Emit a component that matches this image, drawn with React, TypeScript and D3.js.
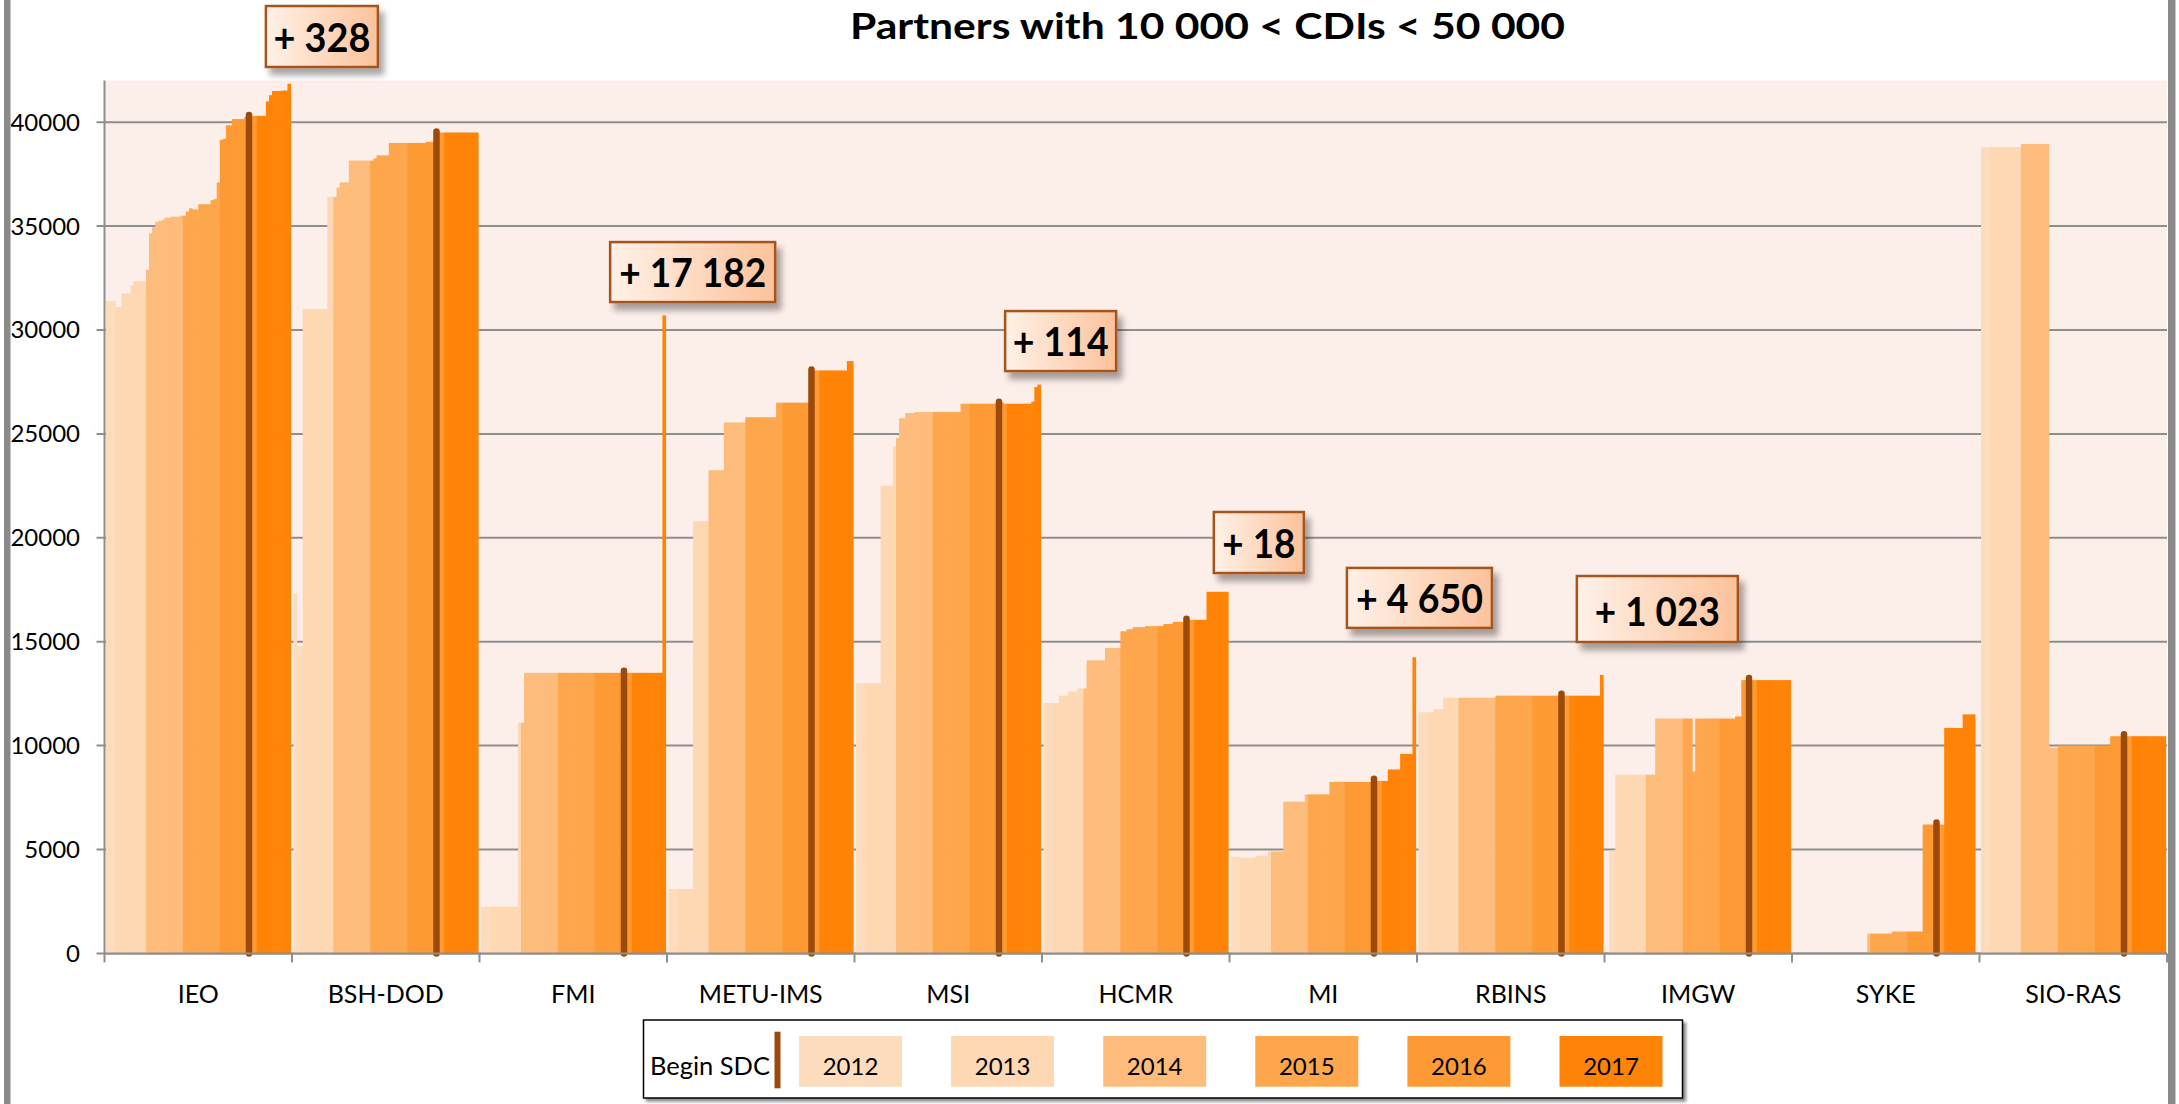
import React from 'react';
import * as d3 from 'd3';

// partners on the x axis
const categories = ['IEO', 'BSH-DOD', 'FMI', 'METU-IMS', 'MSI', 'HCMR', 'MI', 'RBINS', 'IMGW', 'SYKE', 'SIO-RAS'];
// monthly slots per year inside each partner group
const years = ['2012', '2013', '2014', '2015', '2016', '2017'];
const monthsPerYear = [3, 10, 12, 12, 12, 11];
const yTicks = [0, 5000, 10000, 15000, 20000, 25000, 30000, 35000, 40000];
// month slot where the SDC period begins
const sdcSlot = 46;

// cumulative CDIs per month (one line per year)
const IEO = [
  31400, 31400, 31400,
  31100, 31100, 31750, 31750, 31750, 32150, 32350, 32350, 32350, 32350,
  32900, 34650, 34950, 35200, 35250, 35300, 35400, 35400, 35450, 35450, 35450, 35500,
  35500, 35700, 35850, 35800, 35800, 36050, 36050, 36050, 36050, 36250, 36300, 37100,
  39150, 39200, 39850, 39850, 40150, 40150, 40150, 40150, 40250, 40350, 40300, 40300,
  40300, 40300, 40300, 41000, 41300, 41500, 41500, 41500, 41520, 41520, 41850,
];
const BSH_DOD = [
  17300, 14800, 14800,
  31000, 31000, 31000, 31000, 31000, 31000, 31000, 31000, 36400, 36400,
  36400, 36850, 37100, 37100, 37100, 38150, 38150, 38150, 38150, 38150, 38150, 38150,
  38150, 38250, 38400, 38400, 38400, 38400, 39000, 39000, 39000, 39000, 39000, 39000,
  39000, 39000, 39000, 39000, 39000, 39000, 39050, 39050, 39050, 39550, 39500, 39500,
  39500, 39500, 39500, 39500, 39500, 39500, 39500, 39500, 39500, 39500, 39500,
];
const FMI = [
  2250, 2250, 2250,
  2250, 2250, 2250, 2250, 2250, 2250, 2250, 2250, 2250, 11100,
  11100, 13500, 13500, 13500, 13500, 13500, 13500, 13500, 13500, 13500, 13500, 13500,
  13500, 13500, 13500, 13500, 13500, 13500, 13500, 13500, 13500, 13500, 13500, 13500,
  13500, 13500, 13500, 13500, 13500, 13500, 13500, 13500, 13500, 13600, 13500, 13500,
  13500, 13500, 13500, 13500, 13500, 13500, 13500, 13500, 13500, 13500, 30700,
];
const METU_IMS = [
  3100, 3100, 3100,
  3100, 3100, 3100, 3100, 3100, 20800, 20800, 20800, 20800, 20800,
  23250, 23250, 23250, 23250, 23250, 25550, 25550, 25550, 25550, 25550, 25550, 25550,
  25800, 25800, 25800, 25800, 25800, 25800, 25800, 25800, 25800, 25800, 26500, 26500,
  26500, 26500, 26500, 26500, 26500, 26500, 26500, 26500, 26500, 28100, 28050, 28050,
  28050, 28050, 28050, 28050, 28050, 28050, 28050, 28050, 28050, 28500, 28500,
];
const MSI = [
  13000, 13000, 13000,
  13000, 13000, 13000, 13000, 13000, 22500, 22500, 22500, 22500, 24400,
  24800, 25750, 25750, 26000, 26000, 26000, 26050, 26050, 26050, 26050, 26050, 26050,
  26050, 26050, 26050, 26050, 26050, 26050, 26050, 26050, 26050, 26450, 26450, 26450,
  26450, 26450, 26450, 26450, 26450, 26450, 26450, 26450, 26450, 26550, 26500, 26450,
  26450, 26450, 26450, 26450, 26450, 26450, 26450, 26450, 26550, 27250, 27370,
];
const HCMR = [
  12050, 12050, 12050,
  12050, 12050, 12400, 12400, 12400, 12600, 12600, 12600, 12750, 12750,
  12750, 14100, 14100, 14100, 14100, 14100, 14100, 14700, 14700, 14700, 14700, 14700,
  15500, 15500, 15600, 15600, 15700, 15700, 15700, 15700, 15750, 15750, 15750, 15750,
  15750, 15750, 15850, 15850, 15850, 15950, 15950, 15950, 15950, 16100, 16050, 16050,
  16050, 16050, 16050, 16050, 17400, 17400, 17400, 17400, 17400, 17400, 17400,
];
const MI = [
  4650, 4650, 4650,
  4600, 4600, 4600, 4600, 4600, 4700, 4700, 4700, 4700, 4900,
  4900, 4900, 4900, 4900, 7300, 7300, 7300, 7300, 7300, 7300, 7300, 7650,
  7650, 7650, 7650, 7650, 7650, 7650, 7650, 8250, 8250, 8250, 8250, 8250,
  8250, 8250, 8250, 8250, 8250, 8250, 8250, 8250, 8250, 8400, 8300, 8300,
  8300, 8300, 8850, 8850, 8850, 8850, 9600, 9600, 9600, 9600, 14250,
];
const RBINS = [
  11600, 11600, 11600,
  11600, 11600, 11750, 11750, 11750, 12300, 12300, 12300, 12300, 12300,
  12300, 12300, 12300, 12300, 12300, 12300, 12300, 12300, 12300, 12300, 12300, 12300,
  12400, 12400, 12400, 12400, 12400, 12400, 12400, 12400, 12400, 12400, 12400, 12400,
  12400, 12400, 12400, 12400, 12400, 12400, 12400, 12400, 12400, 12500, 12400, 12400,
  12400, 12400, 12400, 12400, 12400, 12400, 12400, 12400, 12400, 12400, 13400,
];
const IMGW = [
  null, 4950, 4950,
  8600, 8600, 8600, 8600, 8600, 8600, 8600, 8600, 8600, 8600,
  8600, 8600, 8600, 11300, 11300, 11300, 11300, 11300, 11300, 11300, 11300, 11300,
  11300, 11300, 11300, 8750, 11300, 11300, 11300, 11300, 11300, 11300, 11300, 11300,
  11300, 11300, 11300, 11300, 11300, 11400, 11400, 13150, 13150, 13250, 13150, 13150,
  13150, 13150, 13150, 13150, 13150, 13150, 13150, 13150, 13150, 13150, 13150,
];
const SYKE = [
  null, null, null,
  null, null, null, null, null, null, null, null, null, null,
  null, null, null, null, null, null, null, null, null, null, null, 950,
  950, 950, 950, 950, 950, 950, 950, 1050, 1050, 1050, 1050, 1050,
  1050, 1050, 1050, 1050, 1050, 6200, 6200, 6200, 6200, 6300, 6200, 6200,
  10850, 10850, 10850, 10850, 10850, 10850, 11500, 11500, 11500, 11500, null,
];
const SIO_RAS = [
  38800, 38800, 38800,
  38800, 38800, 38800, 38800, 38800, 38800, 38800, 38800, 38800, 38800,
  38950, 38950, 38950, 38950, 38950, 38950, 38950, 38950, 38950, 9900, 9900, 9900,
  10000, 10000, 10000, 10000, 10000, 10000, 10000, 10000, 10000, 10000, 10000, 10000,
  10000, 10000, 10000, 10000, 10000, 10450, 10450, 10450, 10450, 10550, 10450, 10450,
  10450, 10450, 10450, 10450, 10450, 10450, 10450, 10450, 10450, 10450, 10450,
];
const series: (number | null)[][] = [IEO, BSH_DOD, FMI, METU_IMS, MSI, HCMR, MI, RBINS, IMGW, SYKE, SIO_RAS];

// increase labels: text, partner, anchor slot (left edge) and value (top edge)
const calloutText = ['+ 328', '+ 17 182', '+ 114', '+ 18', '+ 4 650', '+ 1 023'];
const calloutPartner = ['IEO', 'FMI', 'MSI', 'HCMR', 'MI', 'RBINS'];
const calloutSlot = [52, 42, 48.5, 55.4, 37.7, 51.5];
const calloutValue = [45590, 34230, 30910, 21240, 18550, 18160];

// styling
const yearColors = ['#FDDCBD', '#FDD8B3', '#FDBC7B', '#FDA64C', '#FE9A33', '#FF8306'];
const calloutBox = [
  { w: 112, h: 61, tw: 97 },
  { w: 165, h: 60, tw: 147 },
  { w: 111, h: 60, tw: 96 },
  { w: 90, h: 61, tw: 73 },
  { w: 145, h: 60, tw: 127 },
  { w: 161, h: 66, tw: 125 },
];
const FONT = 'Lato, "Open Sans", sans-serif';
const GRID = '#8E8E8E';
const SDC = '#9C4A0B';

const App: React.FC = () => {
  const x0 = d3.scaleBand<string>().domain(categories).range([104.5, 2167]).padding(0);
  const slotX = d3.scaleLinear().domain([0, 60]).range([1.5, x0.bandwidth() - 1.5]);
  const y = d3.scaleLinear().domain([0, 42000]).range([953.4, 80.6]);
  const slotYear = monthsPerYear.flatMap((n, i) => d3.range(n).map(() => i));
  const slotW = slotX(1) - slotX(0);
  const [plotL, plotR] = x0.range();

  return (
    <>
      <style>{'body{margin:0;overflow:hidden}'}</style>
      <svg width={2179} height={1104} style={{ display: 'block', background: '#fff' }} fontFamily={FONT}>
        <defs>
          <linearGradient id="calloutFill" x1="0" x2="1" y1="0" y2="0">
            <stop offset="0" stopColor="#FFF1E8" />
            <stop offset="1" stopColor="#FCC29A" />
          </linearGradient>
          <filter id="calloutShadow" x="-20%" y="-20%" width="150%" height="170%">
            <feDropShadow dx="5" dy="7" stdDeviation="3" floodColor="#000" floodOpacity="0.35" />
          </filter>
          <filter id="legendShadow" x="-5%" y="-20%" width="110%" height="150%">
            <feDropShadow dx="3" dy="3" stdDeviation="1.5" floodColor="#000" floodOpacity="0.45" />
          </filter>
        </defs>

        {/* plot background */}
        <rect x={plotL} y={y(42000)} width={plotR - plotL} height={y(0) - y(42000)} fill="#FCEEE9" />

        {/* gridlines */}
        {yTicks.map((t) => (
          <line key={t} x1={plotL - 8} x2={plotR} y1={y(t)} y2={y(t)} stroke={GRID} strokeWidth={2} />
        ))}

        {/* monthly bars */}
        {categories.map((c, ci) => (
          <g key={c}>
            {series[ci].map((v, s) =>
              v == null ? null : (
                <rect
                  key={s}
                  x={x0(c)! + slotX(s)}
                  y={y(v)}
                  width={slotW + 0.6}
                  height={y(0) - y(v)}
                  fill={yearColors[slotYear[s]]}
                />
              )
            )}
          </g>
        ))}

        {/* Begin SDC markers */}
        {categories.map((c, ci) => {
          const v = series[ci][sdcSlot];
          if (v == null) return null;
          const cx = x0(c)! + slotX(sdcSlot + 0.5);
          return (
            <line key={c} x1={cx} x2={cx} y1={y(v)} y2={y(0)} stroke={SDC} strokeWidth={6.5} strokeLinecap="round" />
          );
        })}

        {/* axes */}
        <line x1={plotL} x2={plotL} y1={y(42000)} y2={y(0)} stroke={GRID} strokeWidth={2} />
        <line x1={plotL} x2={plotR} y1={y(0)} y2={y(0)} stroke={GRID} strokeWidth={2} />
        {[...categories.map((c) => x0(c)!), plotR].map((xv, i) => (
          <line key={i} x1={xv} x2={xv} y1={y(0)} y2={y(0) + 9} stroke={GRID} strokeWidth={2} />
        ))}
        {yTicks.map((t) => (
          <text key={t} x={80} y={y(t) + 8.5} textAnchor="end" fontSize={24} fill="#000">
            {t}
          </text>
        ))}
        {categories.map((c) => (
          <text key={c} x={x0(c)! + x0.bandwidth() / 2} y={1003} textAnchor="middle" fontSize={25} fill="#000">
            {c}
          </text>
        ))}

        {/* callouts */}
        {calloutText.map((txt, i) => {
          const bx = x0(calloutPartner[i])! + slotX(calloutSlot[i]);
          const by = y(calloutValue[i]);
          const b = calloutBox[i];
          return (
            <g key={txt}>
              <rect
                x={bx}
                y={by}
                width={b.w}
                height={b.h}
                fill="url(#calloutFill)"
                stroke="#A5551D"
                strokeWidth={2.5}
                filter="url(#calloutShadow)"
              />
              <text
                x={bx + (b.w - b.tw) / 2}
                y={by + b.h * 0.75}
                fontSize={40}
                fontWeight="bold"
                fill="#000"
                textLength={b.tw}
                lengthAdjust="spacingAndGlyphs"
              >
                {txt}
              </text>
            </g>
          );
        })}

        {/* legend */}
        <rect x={643.5} y={1020} width={1039} height={78} fill="#fff" stroke="#000" strokeWidth={1.5} filter="url(#legendShadow)" />
        <text x={650} y={1075} fontSize={25} textLength={120} lengthAdjust="spacingAndGlyphs" fill="#000">
          Begin SDC
        </text>
        <rect x={774.5} y={1031.7} width={6} height={56.6} fill={SDC} />
        {years.map((yr, i) => (
          <g key={yr}>
            <rect x={799 + i * 152.1} y={1036} width={103} height={50.7} fill={yearColors[i]} />
            <text x={799 + i * 152.1 + 51.5} y={1075} textAnchor="middle" fontSize={24} fill="#000">
              {yr}
            </text>
          </g>
        ))}

        {/* title */}
        <text x={850} y={39} fontSize={37} fontWeight="bold" fill="#000" textLength={715} lengthAdjust="spacingAndGlyphs">
          Partners with 10 000 &lt; CDIs &lt; 50 000
        </text>

        {/* outer frame edges */}
        <rect x={4} y={0} width={6.5} height={1104} fill="#8A8A8A" />
        <rect x={2168} y={0} width={7.5} height={1104} fill="#8A8A8A" />
      </svg>
    </>
  );
};

export default App;
